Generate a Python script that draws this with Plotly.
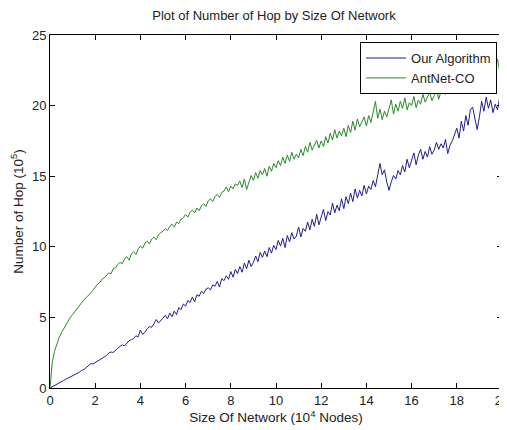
import plotly.graph_objects as go

x_values = [i / 10 for i in range(201)]

our_algorithm = [
    0.00, 0.08, 0.20, 0.26, 0.37, 0.44, 0.53, 0.62, 0.70, 0.83,
    0.88, 0.99, 1.05, 1.12, 1.25, 1.30, 1.44, 1.58, 1.72, 1.70,
    1.80, 1.90, 2.02, 2.10, 2.25, 2.30, 2.48, 2.55, 2.52, 2.70,
    2.82, 2.95, 3.05, 2.98, 3.20, 3.35, 3.42, 3.50, 3.70, 3.62,
    4.10, 3.80, 3.95, 4.20, 4.35, 4.30, 4.55, 4.85, 4.60, 4.75,
    4.95, 5.15, 4.90, 5.30, 5.05, 5.45, 5.20, 5.70, 5.55, 5.95,
    5.80, 6.20, 6.05, 6.45, 6.10, 6.60, 6.50, 6.85, 6.70, 7.00,
    7.10, 6.95, 7.30, 7.20, 7.55, 7.15, 7.75, 7.60, 7.95, 7.70,
    8.25, 7.85, 8.40, 8.10, 8.60, 8.20, 8.85, 8.45, 9.05, 8.60,
    8.90, 9.35, 8.95, 9.60, 9.25, 9.70, 9.30, 9.95, 9.55, 10.10,
    9.80, 10.45, 10.05, 10.60, 9.95, 10.80, 10.35, 11.00, 10.55, 10.75,
    11.40, 10.70, 11.30, 11.10, 11.75, 11.20, 11.95, 11.45, 12.30, 11.55,
    12.10, 12.65, 11.85, 12.50, 12.25, 13.10, 12.40, 12.95, 12.55, 13.40,
    12.70, 13.55, 13.05, 13.80, 13.20, 14.10, 13.45, 14.00, 13.60, 14.35,
    13.75, 14.30, 14.05, 14.70, 14.25, 15.20, 15.90, 15.10, 15.45, 14.60,
    14.00, 14.60, 15.05, 14.80, 15.40, 15.10, 15.75, 15.30, 16.20, 15.60,
    16.10, 16.65, 15.80, 16.50, 16.90, 16.20, 16.75, 16.35, 17.10, 16.55,
    16.85, 17.40, 16.90, 17.30, 17.00, 17.60, 16.60, 17.20, 17.50, 17.95,
    18.40, 17.70, 18.90, 18.20, 19.30, 18.60, 19.70, 19.90, 19.10, 18.30,
    19.20, 20.30, 19.60, 20.60, 19.80, 20.40, 19.50, 20.10, 19.70, 20.60,
    19.90,
]

antnet_co = [
    0.00, 1.80, 2.60, 3.15, 3.55, 3.90, 4.20, 4.50, 4.75, 5.00,
    5.20, 5.42, 5.60, 5.85, 6.00, 6.25, 6.40, 6.55, 6.75, 6.90,
    7.15, 7.35, 7.45, 7.70, 7.80, 7.95, 8.15, 8.10, 8.45, 8.50,
    8.75, 8.90, 8.80, 9.15, 9.30, 9.05, 9.50, 9.65, 9.45, 9.85,
    10.05, 9.90, 10.25, 10.40, 10.20, 10.55, 10.70, 10.50, 10.85, 11.00,
    11.10, 11.30, 11.15, 11.45, 11.60, 11.40, 11.75, 11.65, 11.95, 12.05,
    12.30, 12.10, 12.45, 12.60, 12.40, 12.75, 12.55, 12.90, 13.05, 12.85,
    13.25, 13.40, 13.20, 13.55, 13.70, 13.50, 13.85, 13.95, 14.25, 13.90,
    14.30, 14.10, 14.45, 14.35, 14.65, 14.20, 14.80, 14.05, 14.60, 15.05,
    14.70, 15.25, 14.85, 15.40, 15.10, 15.55, 15.00, 15.70, 15.35, 15.90,
    15.60, 16.10, 15.75, 16.35, 15.90, 16.50, 16.05, 16.70, 16.20, 16.55,
    16.30, 16.90, 16.45, 17.10, 16.70, 17.40, 16.85, 17.20, 17.55, 17.00,
    17.50, 17.10, 17.80, 17.35, 18.05, 17.55, 18.30, 17.70, 18.20, 17.85,
    18.40, 17.80, 18.60, 18.10, 18.90, 18.25, 19.05, 18.50, 18.85, 19.20,
    18.55, 19.30, 18.80, 19.50, 20.30, 19.10, 19.75, 19.00, 19.60, 19.20,
    19.90, 20.40, 19.40, 20.10, 19.60, 20.30, 19.80, 20.55, 19.70, 20.20,
    20.00, 20.65, 19.85, 20.40, 20.10, 20.80, 20.25, 20.60, 20.95, 20.35,
    20.70, 21.20, 20.45, 21.00, 21.40, 20.80, 21.55, 21.10, 20.90, 21.60,
    21.30, 20.95, 21.80, 21.40, 22.05, 21.20, 21.70, 22.30, 21.50, 21.90,
    22.40, 21.80, 22.70, 22.10, 21.60, 22.90, 22.30, 22.70, 23.30, 22.40,
    23.20,
]

x_ticks = [0, 2, 4, 6, 8, 10, 12, 14, 16, 18, 20]
y_ticks = [0, 5, 10, 15, 20, 25]

FONT = "Liberation Sans, Arial, sans-serif"
TXT = "#222222"

# page body has an 8px margin, so the figure is sized/offset to fill the window
FIG_W, FIG_H = 499, 422

fig = go.Figure()
fig.add_trace(go.Scatter(x=x_values, y=our_algorithm, mode="lines",
                         name="Our Algorithm",
                         line=dict(color="#1f1f8c", width=1)))
fig.add_trace(go.Scatter(x=x_values, y=antnet_co, mode="lines",
                         name="AntNet-CO",
                         line=dict(color="#2a8a2a", width=1)))

axis_common = dict(
    showgrid=False, zeroline=False, showline=True, linecolor="black",
    linewidth=1, mirror="allticks", ticks="inside", ticklen=5,
    tickcolor="black", tickfont=dict(family=FONT, size=13, color=TXT),
    automargin=False, ticklabeloverflow="allow",
)

fig.update_layout(
    width=FIG_W, height=FIG_H,
    margin=dict(l=42, r=5, t=27, b=42, autoexpand=False),
    paper_bgcolor="white", plot_bgcolor="white",
    font=dict(family=FONT, size=13, color=TXT),
    title=dict(text="Plot of Number of Hop by Size Of Network",
               x=0.533, xanchor="center", xref="container",
               y=1 - 7 / FIG_H, yanchor="middle", yref="container",
               font=dict(family=FONT, size=13, color=TXT)),
    xaxis=dict(range=[0, 20], tickvals=x_ticks,
               title=dict(text="Size Of Network (10<sup>4</sup> Nodes)",
                          font=dict(family=FONT, size=13.5), standoff=4),
               **axis_common),
    yaxis=dict(range=[0, 25], tickvals=y_ticks,
               title=dict(text="Number of Hop (10<sup>5</sup>)",
                          font=dict(family=FONT, size=13.5), standoff=6),
               **axis_common),
    legend=dict(x=0.989, y=0.98, xanchor="right", yanchor="top",
                bgcolor="white", bordercolor="black", borderwidth=1,
                font=dict(family=FONT, size=13, color=TXT),
                tracegroupgap=0, itemwidth=40),
    showlegend=True,
)

fig.write_html("out.html")
